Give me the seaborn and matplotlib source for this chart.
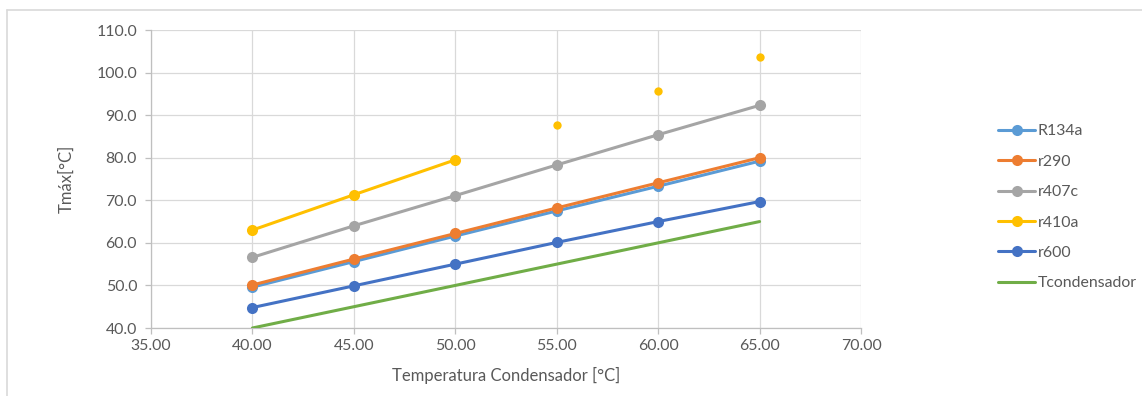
import matplotlib
matplotlib.use("Agg")
import matplotlib.pyplot as plt
from matplotlib.lines import Line2D
import seaborn as sns
import pandas as pd

# Condensing temperature [°C]
t_cond = [40, 45, 50, 55, 60, 65]

# Maximum (discharge) temperature per refrigerant [°C]
r134a = [49.6, 55.6, 61.6, 67.5, 73.3, 79.2]
r290 = [50.1, 56.2, 62.2, 68.2, 74.1, 80.0]
r407c = [56.6, 64.0, 71.1, 78.3, 85.4, 92.3]
r410a_line = [63.0, 71.3, 79.5]
r410a_dots = [87.7, 95.6, 103.6]
r600 = [44.8, 49.9, 55.0, 60.1, 65.0, 69.7]
t_condensador = [40, 45, 50, 55, 60, 65]

x_ticks = [35, 40, 45, 50, 55, 60, 65, 70]
y_ticks = [40, 50, 60, 70, 80, 90, 100, 110]

TEXT = "#595959"
GRID = "#D9D9D9"
SPINE = "#BFBFBF"

sns.set_style("white")
plt.rcParams["font.family"] = ["Lato", "DejaVu Sans"]

W, H = 1142, 396
fig = plt.figure(figsize=(W / 100, H / 100), dpi=100)
ax = fig.add_axes([151 / W, (H - 328) / H, (861 - 151) / W, (328 - 30) / H])

series = [
    ("R134a", r134a, "#5B9BD5", "o"),
    ("r290", r290, "#ED7D31", "o"),
    ("r407c", r407c, "#A5A5A5", "o"),
    ("r410a", r410a_line, "#FFC000", "o"),
    ("r600", r600, "#4472C4", "o"),
    ("Tcondensador", t_condensador, "#70AD47", None),
]

for name, values, color, marker in series:
    df = pd.DataFrame({"x": t_cond[:len(values)], "y": values})
    sns.lineplot(data=df, x="x", y="y", ax=ax, color=color, linewidth=2.2,
                 marker=marker, markersize=8, markeredgewidth=0,
                 label=name, zorder=3)

# r410a values above 50 °C shown as isolated points
df_dots = pd.DataFrame({"x": t_cond[3:], "y": r410a_dots})
sns.scatterplot(data=df_dots, x="x", y="y", ax=ax, color="#FFC000", s=36,
                linewidth=0, legend=False, zorder=3)

ax.set_xlim(35, 70)
ax.set_ylim(40, 110)
ax.set_xticks(x_ticks)
ax.set_yticks(y_ticks)
ax.set_xticklabels([f"{v:.2f}" for v in x_ticks])
ax.set_yticklabels([f"{v:.1f}" for v in y_ticks])

ax.grid(True, color=GRID, linewidth=0.9)
ax.set_axisbelow(True)
for side in ["top", "right"]:
    ax.spines[side].set_visible(False)
for side in ["left", "bottom"]:
    ax.spines[side].set_color(SPINE)
    ax.spines[side].set_linewidth(0.9)
ax.tick_params(axis="both", which="major", length=4, width=0.9, color=SPINE,
               labelcolor=TEXT, labelsize=11.4, direction="out")
ax.tick_params(axis="y", pad=6)
ax.tick_params(axis="x", pad=4)
ax.tick_params(bottom=True, left=True)

ax.set_xlabel("Temperatura Condensador [°C]", color=TEXT, fontsize=12, labelpad=10)
ax.set_ylabel("Tmáx[°C]", color=TEXT, fontsize=12, labelpad=16)

leg = ax.legend(loc="upper left", bbox_to_anchor=(992 / W, (H - 118) / H),
                bbox_transform=fig.transFigure, frameon=False, fontsize=11.4,
                handlelength=2.3, handletextpad=0.2, labelspacing=1.03,
                borderaxespad=0)
for t in leg.get_texts():
    t.set_color(TEXT)

# chart-area frame
fig.add_artist(Line2D([7 / W, 1.0], [(H - 10) / H, (H - 10) / H],
                      transform=fig.transFigure, color=GRID, linewidth=1.2))
fig.add_artist(Line2D([7 / W, 7 / W], [0, (H - 10) / H],
                      transform=fig.transFigure, color=GRID, linewidth=1.2))

fig.savefig("out.png", dpi=100)
